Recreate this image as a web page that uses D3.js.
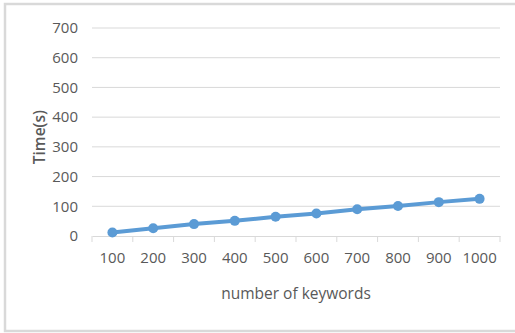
<!DOCTYPE html>
<html>
<head>
<meta charset="utf-8">
<script src="https://cdn.jsdelivr.net/npm/d3@7"></script>
<style>
  body { margin: 0; background: #fff; }
  text { font-family: "Open Sans", "Liberation Sans", sans-serif; }
</style>
</head>
<body>
<div id="chart"></div>
<script>
const keywords = ['100', '200', '300', '400', '500', '600', '700', '800', '900', '1000'];
const times = [12, 26, 40, 51, 65, 76, 90, 101, 114, 125];
const yTicks = [0, 100, 200, 300, 400, 500, 600, 700];

const margin = { top: 28, right: 15, bottom: 97, left: 92 };
const width = 500 - margin.left;
const height = 236 - margin.top;

const root = d3.select('#chart')
    .append('svg')
    .attr('width', 515)
    .attr('height', 333);

// outer frame
root.append('rect')
    .attr('x', 5)
    .attr('y', 4)
    .attr('width', 520)
    .attr('height', 327)
    .attr('fill', 'none')
    .attr('stroke', '#d9d9d9')
    .attr('stroke-width', 2.5);

const svg = root.append('g')
    .attr('transform', `translate(${margin.left},${margin.top})`);

const x = d3.scaleBand()
    .domain(keywords)
    .range([0, width]);

const y = d3.scaleLinear()
    .domain([0, 700])
    .range([height, 0]);

// gridlines
svg.append('g')
    .selectAll('line')
    .data(yTicks.slice(1))
    .join('line')
    .attr('x1', 0)
    .attr('x2', width)
    .attr('y1', d => y(d))
    .attr('y2', d => y(d))
    .attr('stroke', '#d9d9d9')
    .attr('stroke-width', 1);

// y axis labels
const yAxis = svg.append('g')
    .call(d3.axisLeft(y).tickValues(yTicks).tickSize(0).tickPadding(14));
yAxis.select('.domain').remove();
yAxis.selectAll('text')
    .attr('fill', '#595959')
    .style('font-size', '15px');

// x axis
const xAxis = svg.append('g')
    .attr('transform', `translate(0,${height})`)
    .call(d3.axisBottom(x).tickSize(0).tickPadding(16));
xAxis.select('.domain').attr('stroke', '#d9d9d9');
xAxis.selectAll('text')
    .attr('fill', '#595959')
    .style('font-size', '15px');

// tick marks at band boundaries
svg.append('g')
    .selectAll('line')
    .data(keywords.concat(['end']))
    .join('line')
    .attr('x1', (d, i) => i < keywords.length ? x(d) : width)
    .attr('x2', (d, i) => i < keywords.length ? x(d) : width)
    .attr('y1', height)
    .attr('y2', height + 6)
    .attr('stroke', '#d9d9d9');

// axis titles
svg.append('text')
    .attr('x', width / 2)
    .attr('y', height + 63)
    .attr('text-anchor', 'middle')
    .attr('fill', '#595959')
    .style('font-size', '15.5px')
    .text('number of keywords');

svg.append('text')
    .attr('transform', `translate(${-47},${y(400) + 20}) rotate(-90)`)
    .attr('text-anchor', 'middle')
    .attr('fill', '#595959')
    .style('font-size', '15.5px')
    .style('font-weight', '600')
    .text('Time(s)');

// series
const line = d3.line()
    .x((d, i) => x(keywords[i]) + x.bandwidth() / 2)
    .y(d => y(d));

svg.append('path')
    .datum(times)
    .attr('d', line)
    .attr('fill', 'none')
    .attr('stroke', '#5b9bd5')
    .attr('stroke-width', 4);

svg.selectAll('circle')
    .data(times)
    .join('circle')
    .attr('cx', (d, i) => x(keywords[i]) + x.bandwidth() / 2)
    .attr('cy', d => y(d))
    .attr('r', 5)
    .attr('fill', '#5b9bd5');
</script>
</body>
</html>
